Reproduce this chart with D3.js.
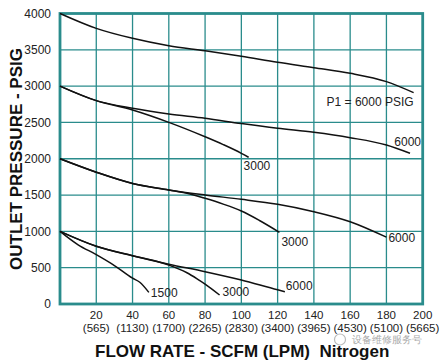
<!DOCTYPE html>
<html><head><meta charset="utf-8">
<script src="https://cdn.jsdelivr.net/npm/d3@7"></script>
<style>
html,body{margin:0;padding:0;background:#fff;}
svg text{font-family:"Liberation Sans",Arial,sans-serif;}
</style></head>
<body>
<svg id="chart" width="442" height="360"></svg>
<script>
// ---- data ----
const flowTicks = [20,40,60,80,100,120,140,160,180,200];
const lpmTicks = ["(565)","(1130)","(1700)","(2265)","(2830)","(3400)","(3965)","(4530)","(5100)","(5665)"];
const psigTicks = [0,500,1000,1500,2000,2500,3000,3500,4000];

// P2 set 4000 psig, P1 = 6000
const a_flow = [0,20,40,60,80,100,120,140,160,180,195];
const a_psig = [4000,3795,3658,3556,3487,3412,3328,3254,3177,3062,2910];
// P2 set 3000 psig
const b_flow = [0,20,40,60,80,100,120,140,160,180,193];
const b_psig = [3000,2800,2694,2616,2557,2484,2419,2364,2290,2189,2075];
const c_flow = [0,20,40,60,80,90,100,104];
const c_psig = [3000,2800,2671,2501,2303,2195,2075,2020];
// P2 set 2000 psig
const d_flow = [0,20,40,60,80,100,120,140,160,180];
const d_psig = [2000,1815,1660,1570,1501,1442,1373,1271,1133,920];
const e_flow = [0,20,40,60,70,80,90,100,110,121];
const e_psig = [2000,1815,1660,1570,1525,1455,1375,1280,1150,987];
// P2 set 1000 psig
const f_flow = [0,20,40,60,80,100,120,124];
const f_psig = [1000,795,665,548,445,330,195,170];
const g_flow = [0,20,40,55,60,70,76,80,88];
const g_psig = [1000,795,665,575,535,430,340,275,124];
const h_flow = [0,10,20,30,40,44,49];
const h_psig = [1000,815,680,530,355,300,160];

const curveLabels = ["P1 = 6000 PSIG","6000","3000","6000","3000","6000","3000","1500"];
const watermark = "设备维修服务号";

// ---- drawing ----
const svg = d3.select("#chart");
const x = d3.scaleLinear().domain([0,200]).range([60,422.7]);
const y = d3.scaleLinear().domain([0,4000]).range([304,13.5]);
const teal = "#2a8c8c";

const grid = svg.append("g");
grid.selectAll("line.vx").data(flowTicks.slice(0,-1)).enter().append("line")
  .attr("x1",d=>x(d)).attr("x2",d=>x(d)).attr("y1",y(0)).attr("y2",y(4000))
  .attr("stroke",teal).attr("stroke-width",1.3);
grid.selectAll("line.hy").data(psigTicks.slice(1,-1)).enter().append("line")
  .attr("y1",d=>y(d)).attr("y2",d=>y(d)).attr("x1",x(0)).attr("x2",x(200))
  .attr("stroke",teal).attr("stroke-width",1.3);
svg.append("rect").attr("x",x(0)).attr("y",y(4000)).attr("width",x(200)-x(0)).attr("height",y(0)-y(4000))
  .attr("fill","none").attr("stroke",teal).attr("stroke-width",2.8);

// y tick labels
svg.selectAll("text.yt").data(psigTicks).enter().append("text")
  .attr("x",x(0)-9).attr("y",d=>y(d)).attr("dy","0.36em").attr("text-anchor","end")
  .attr("font-size",12).attr("fill","#222").text(d=>d);
// x tick labels
const xt = svg.selectAll("g.xt").data(flowTicks).enter().append("g");
xt.append("text").attr("x",d=>x(d)).attr("y",319).attr("text-anchor","middle")
  .attr("font-size",11.5).attr("fill","#222").text(d=>d);
xt.append("text").attr("x",d=>x(d)).attr("y",331.5).attr("text-anchor","middle")
  .attr("font-size",11.5).attr("fill","#222").text((d,i)=>lpmTicks[i]);

// titles
svg.append("text").attr("x",95).attr("y",356.5).attr("font-size",17).attr("font-weight","bold")
  .attr("fill","#111").attr("xml:space","preserve").text("FLOW RATE - SCFM (LPM)  Nitrogen");
svg.append("text").attr("transform","translate(21.5,159) rotate(-90)").attr("text-anchor","middle")
  .attr("font-size",17).attr("font-weight","bold").attr("fill","#111").text("OUTLET PRESSURE - PSIG");

// curves
const line = d3.line().x(d=>x(d[0])).y(d=>y(d[1])).curve(d3.curveMonotoneX);
const series = [
  [a_flow,a_psig],[b_flow,b_psig],[c_flow,c_psig],[d_flow,d_psig],
  [e_flow,e_psig],[f_flow,f_psig],[g_flow,g_psig],[h_flow,h_psig]
];
// label offsets relative to each curve's end point, and anchors
const offs = [[0,13.5,"end"],[11,-7,"end"],[-5,13,"start"],[2,5,"start"],[2,14,"start"],[1,-1.5,"start"],[3,1.5,"start"],[2,4.5,"start"]];
series.forEach((s,i)=>{
  const pts = s[0].map((f,j)=>[f,s[1][j]]);
  svg.append("path").attr("d",line(pts)).attr("fill","none").attr("stroke","#111").attr("stroke-width",1.5);
  const last = pts[pts.length-1];
  svg.append("text").attr("x",x(last[0])+offs[i][0]).attr("y",y(last[1])+offs[i][1])
    .attr("text-anchor",offs[i][2]).attr("font-size",12).attr("fill","#222").text(curveLabels[i]);
});

// watermark
svg.append("circle").attr("cx",340).attr("cy",339.5).attr("r",5.5).attr("fill","none").attr("stroke","#bbb").attr("stroke-width",1.2);
svg.append("text").attr("x",352).attr("y",343).attr("font-size",10).attr("fill","#aaa")
  .attr("font-family","'Noto Sans CJK SC',sans-serif").text(watermark);
</script>
</body></html>
